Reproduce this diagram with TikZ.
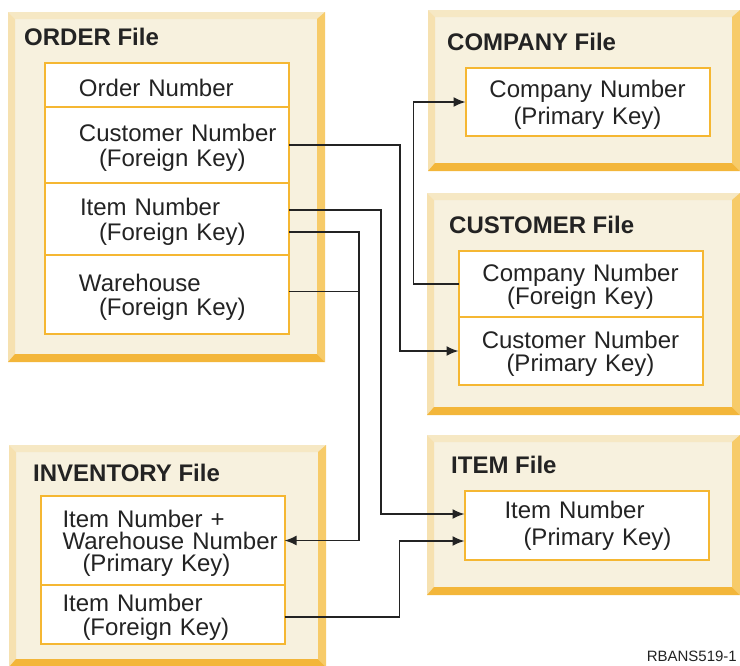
\documentclass[tikz,border=0pt]{standalone}
\usepackage{fontspec}
\setmainfont{Liberation Sans}
\usepackage{tikz}
\usetikzlibrary{calc,positioning,arrows.meta}

\definecolor{panelfill}{RGB}{247,241,222}
\definecolor{bevtop}{RGB}{246,232,196}
\definecolor{bevleft}{RGB}{246,225,176}
\definecolor{bevright}{RGB}{247,203,105}
\definecolor{bevbot}{RGB}{243,182,58}
\definecolor{fieldline}{RGB}{245,183,50}
\definecolor{ink}{RGB}{35,35,35}

\begin{document}
\begin{tikzpicture}[x=1pt,y=-1pt,
  fieldbase/.style={draw=fieldline,line width=2pt,fill=white,outer sep=0pt,
    text width=240pt,inner xsep=2pt,inner ysep=0pt,align=left,text=ink,
    font=\fontsize{24}{24.5}\selectfont},
  field/.style={fieldbase,execute at begin node={\rule{0pt}{23pt}}},
  cfield/.style={field,align=center},
  title/.style={anchor=west,inner sep=0pt,text=ink,
    font=\fontsize{24}{24}\selectfont\bfseries},
  conn/.style={draw=ink,line width=1.7pt},
  >={Latex[length=12pt,width=10pt]}]
\useasboundingbox (0,0) rectangle (740,665);

% file panels with bevelled edges
\foreach \xa/\ya/\xb/\yb in {8/12/325/362,428/10/740/171,427/193/740/415,9/445/326/667,427/435/740/595}
{
 \fill[panelfill] (\xa,\ya) rectangle (\xb,\yb);
 \fill[bevtop] (\xa,\ya) -- (\xb,\ya) -- (\xb-7,\ya+7) -- (\xa+7,\ya+7) -- cycle;
 \fill[bevleft] (\xa,\ya) -- (\xa+7,\ya+7) -- (\xa+7,\yb-7) -- (\xa,\yb) -- cycle;
 \fill[bevright] (\xb,\ya) -- (\xb,\yb) -- (\xb-8,\yb-8) -- (\xb-8,\ya+7) -- cycle;
 \fill[bevbot] (\xa,\yb) -- (\xb,\yb) -- (\xb-8,\yb-8) -- (\xa+7,\yb-8) -- cycle;
}

% titles
\node[title] (ordtitle) at (24,37) {ORDER File};
\node[title] (comptitle) at (447,42) {COMPANY File};
\node[title] (custtitle) at (449,225) {CUSTOMER File};
\node[title] (invtitle) at (33,473) {INVENTORY File};
\node[title] (itemtitle) at (451,465) {ITEM File};

% ORDER file
\node[field,minimum height=44pt] (ordnum) at (167,85) {\hspace*{32pt}Order Number};
\node[field,minimum height=76pt,below=0pt of ordnum] (custfk)
  {\hspace*{32pt}Customer Number\\\hspace*{52pt}(Foreign Key)};
\node[field,minimum height=72pt,below=0pt of custfk] (itemfk)
  {\hspace*{33pt}Item Number\\\hspace*{52pt}(Foreign Key)};
\node[field,minimum height=79pt,below=0pt of itemfk] (whfk)
  {\hspace*{32pt}Warehouse\\\hspace*{52pt}(Foreign Key)};

% COMPANY file
\node[cfield,minimum height=68pt] (comppk) at (587.5,102) {Company Number\\[3pt](Primary Key)};

% CUSTOMER file
\node[cfield,minimum height=66pt] (compfk) at (580.5,284) {Company Number\\[-1pt](Foreign Key)};
\node[cfield,minimum height=68pt,below=0pt of compfk] (custpk) {Customer Number\\[-1pt](Primary Key)};

% INVENTORY file
\node[field,minimum height=89pt] (invpk) at (162.5,540.5)
  {\hspace*{20pt}Item Number +\\[-2.5pt]\hspace*{20pt}Warehouse Number\\[-2.5pt]\hspace*{40pt}(Primary Key)};
\node[field,minimum height=59pt,below=0pt of invpk] (invfk)
  {\hspace*{20pt}Item Number\\[-1pt]\hspace*{40pt}(Foreign Key)};

% ITEM file
\node[fieldbase,minimum height=69pt] (itempk) at (586.5,525.5)
  {\hspace*{38pt}Item Number\\[2.5pt]\hspace*{57pt}(Primary Key)};

% connectors
\draw[conn,->] (custfk.east) -- ++(111,0) |- (custpk.west);
\draw[conn,->] ([yshift=9pt]itemfk.east) -- ++(92,0) |- ([yshift=11.5pt]itempk.west);
\draw[conn,->] ([yshift=-13pt]itemfk.east) -- ++(70,0) |- (invpk.east);
\draw[conn] ([yshift=3pt]whfk.east) -- ++(70,0);
\draw[conn,->] (compfk.west) -- ++(-45,0) |- (comppk.west);
\draw[conn,->] ([yshift=-2.5pt]invfk.east) -- ++(115,0) |- ([yshift=-15.5pt]itempk.west);

\node[anchor=east,inner sep=0pt,text=ink,font=\fontsize{15}{16}\selectfont] (figid) at (737,656) {RBANS519-1};
\end{tikzpicture}
\end{document}
